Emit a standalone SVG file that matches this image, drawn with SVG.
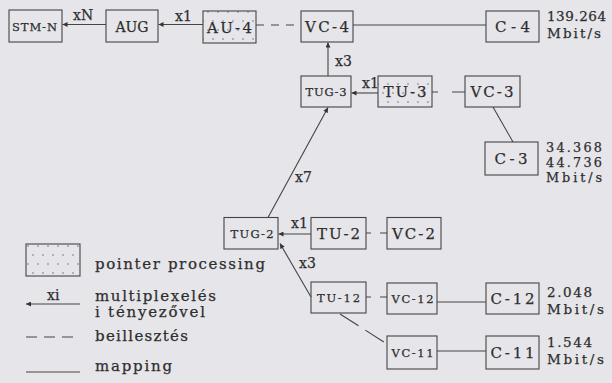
<svg xmlns="http://www.w3.org/2000/svg" width="612" height="383" viewBox="0 0 612 383">
<style>
.bg{fill:#e6e6ea}
.box{fill:none;stroke:#444;stroke-width:1.1}
.pp{fill:url(#dots);stroke:#444;stroke-width:1.1}
text{font-family:"DejaVu Serif","Liberation Serif",serif;fill:#2e2e2e;stroke:#2e2e2e;stroke-width:0.25}
.L{font-size:15px;text-anchor:middle}
.S{font-size:11.5px;text-anchor:middle}
.n{font-size:13.5px}
.n3{font-size:12.8px}
.e{font-size:14px}
.lg{font-size:15px}
.ln{stroke:#444;stroke-width:1.1;fill:none}
.ar{stroke:#444;stroke-width:1.1;fill:none;marker-end:url(#ah)}
.dash{stroke:#444;stroke-width:1.1;fill:none;stroke-dasharray:8 7}
</style>
<defs>
<pattern id="dots" patternUnits="userSpaceOnUse" width="10" height="18">
<circle cx="3" cy="3" r="0.7" fill="#555"/>
<circle cx="8" cy="12" r="0.7" fill="#555"/>
</pattern>
<marker id="ah" viewBox="0 0 10 10" refX="10" refY="5" markerWidth="6" markerHeight="5" markerUnits="userSpaceOnUse" orient="auto">
<path d="M0,0 L10,5 L0,10 z" fill="#333"/>
</marker>
</defs>
<rect class="bg" x="0" y="0" width="612" height="383"/>

<g id="connectors">
<line class="ar" x1="106" y1="24.5" x2="62.5" y2="24.5"/>
<text class="e" x="73" y="20">xN</text>
<line class="ar" x1="203" y1="24.5" x2="158.5" y2="24.5"/>
<text class="e" x="175" y="21">x1</text>
<line class="dash" x1="256" y1="25" x2="301" y2="25"/>
<line class="ln" x1="353" y1="25" x2="486" y2="25"/>
<line class="ar" x1="328" y1="76" x2="328" y2="42.5"/>
<text class="e" x="335" y="66">x3</text>
<line class="ar" x1="378" y1="93" x2="351.5" y2="93"/>
<text class="e" x="362" y="88">x1</text>
<line class="dash" x1="432" y1="92" x2="465" y2="92" style="stroke-dasharray:6 14 13"/>
<line class="ln" x1="493" y1="107" x2="513" y2="142"/>
<line class="ar" x1="268" y1="217.5" x2="328" y2="107.5"/>
<text class="e" x="295" y="182">x7</text>
<line class="ar" x1="311" y1="234" x2="278.5" y2="234"/>
<text class="e" x="291" y="228">x1</text>
<line class="dash" x1="366" y1="233" x2="387" y2="233" style="stroke-dasharray:5 9 7"/>
<line class="ar" x1="311" y1="297" x2="280" y2="243.5"/>
<text class="e" x="299" y="268">x3</text>
<line class="dash" x1="366" y1="297" x2="387" y2="297" style="stroke-dasharray:5 9 7"/>
<line class="ln" x1="437" y1="302" x2="486" y2="302"/>
<line class="dash" x1="340" y1="314" x2="387" y2="344" style="stroke-dasharray:22 8"/>
<line class="ln" x1="437" y1="351" x2="486" y2="351"/>
</g>

<g id="STM-N"><rect class="box" x="9" y="10" width="53" height="32"/><text class="S" x="34.5" y="30.5" textLength="45" lengthAdjust="spacing">STM-N</text></g>
<g id="AUG"><rect class="box" x="106" y="10" width="52" height="32"/><text class="L" x="132" y="31.5" style="font-size:14px">AUG</text></g>
<g id="AU-4"><rect class="pp" x="203" y="11" width="53" height="32"/><text class="L" x="229.5" y="32.5" textLength="45" lengthAdjust="spacing">AU-4</text></g>
<g id="VC-4"><rect class="box" x="301" y="11" width="52" height="31"/><text class="L" x="327" y="32" textLength="44" lengthAdjust="spacing">VC-4</text></g>
<g id="C-4"><rect class="box" x="486" y="11" width="53" height="31"/><text class="L" x="512.5" y="32" textLength="35" lengthAdjust="spacing">C-4</text>
<text class="n" x="547" y="21" textLength="59" lengthAdjust="spacing">139.264</text>
<text class="n" x="547" y="38" textLength="54" lengthAdjust="spacing">Mbit/s</text></g>

<g id="TUG-3"><rect class="box" x="301" y="76" width="50" height="31"/><text class="S" x="326" y="95.5" textLength="41" lengthAdjust="spacing">TUG-3</text></g>
<g id="TU-3"><rect class="pp" x="378" y="76" width="54" height="31"/><text class="L" x="405" y="97" textLength="43" lengthAdjust="spacing">TU-3</text></g>
<g id="VC-3"><rect class="box" x="465" y="76" width="55" height="31"/><text class="L" x="492" y="97" textLength="43" lengthAdjust="spacing">VC-3</text></g>
<g id="C-3"><rect class="box" x="485" y="142" width="53" height="33"/><text class="L" x="511" y="164" textLength="33" lengthAdjust="spacing">C-3</text>
<text class="n3" x="546" y="152" textLength="56" lengthAdjust="spacing">34.368</text>
<text class="n3" x="546" y="167" textLength="56" lengthAdjust="spacing">44.736</text>
<text class="n3" x="546" y="182" textLength="56" lengthAdjust="spacing">Mbit/s</text></g>

<g id="TUG-2"><rect class="box" x="224" y="217.5" width="54" height="31.5"/><text class="S" x="252" y="237.5" textLength="43" lengthAdjust="spacing">TUG-2</text></g>
<g id="TU-2"><rect class="box" x="311" y="217.5" width="55" height="31.5"/><text class="L" x="338.5" y="239" textLength="43" lengthAdjust="spacing">TU-2</text></g>
<g id="VC-2"><rect class="box" x="387" y="217.5" width="54" height="31.5"/><text class="L" x="413.5" y="239" textLength="43" lengthAdjust="spacing">VC-2</text></g>

<g id="TU-12"><rect class="box" x="311" y="282" width="55" height="31"/><text class="S" x="338.5" y="301.5" textLength="43" lengthAdjust="spacing">TU-12</text></g>
<g id="VC-12"><rect class="box" x="387" y="283" width="50" height="31"/><text class="S" x="412.5" y="302.5" textLength="42" lengthAdjust="spacing">VC-12</text></g>
<g id="C-12"><rect class="box" x="486" y="283" width="53" height="31"/><text class="L" x="512.5" y="304" textLength="44" lengthAdjust="spacing">C-12</text>
<text class="n" x="547" y="297" textLength="45" lengthAdjust="spacing">2.048</text>
<text class="n" x="547" y="313.5" textLength="57" lengthAdjust="spacing">Mbit/s</text></g>

<g id="VC-11"><rect class="box" x="387" y="336" width="50" height="33"/><text class="S" x="412.5" y="356.5" textLength="42" lengthAdjust="spacing">VC-11</text></g>
<g id="C-11"><rect class="box" x="486" y="336" width="53" height="33"/><text class="L" x="512.5" y="358" textLength="44" lengthAdjust="spacing">C-11</text>
<text class="n" x="547" y="347" textLength="45" lengthAdjust="spacing">1.544</text>
<text class="n" x="547" y="364" textLength="57" lengthAdjust="spacing">Mbit/s</text></g>

<g id="legend">
<rect class="pp" x="26" y="244" width="54" height="32"/>
<text class="lg" x="95" y="268.5" textLength="170" lengthAdjust="spacing">pointer processing</text>
<line class="ar" x1="80" y1="304" x2="26" y2="304"/>
<text class="e" x="47" y="300">xi</text>
<text class="lg" x="95" y="300.5" textLength="121" lengthAdjust="spacing">multiplexelés</text>
<text class="lg" x="95" y="317" textLength="110" lengthAdjust="spacing">i tényezővel</text>
<line class="ln" x1="26" y1="337" x2="80" y2="337" style="stroke-dasharray:11 7"/>
<text class="lg" x="95" y="341" textLength="93" lengthAdjust="spacing">beillesztés</text>
<line class="ln" x1="26" y1="372" x2="80" y2="372"/>
<text class="lg" x="95" y="371" textLength="77" lengthAdjust="spacing">mapping</text>
</g>
</svg>
